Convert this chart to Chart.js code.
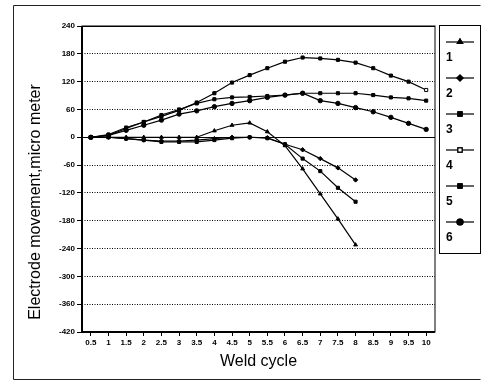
<!DOCTYPE html>
<html>
<head>
<meta charset="utf-8">
<script src="https://cdn.jsdelivr.net/npm/chart.js@4.4.0/dist/chart.umd.min.js"></script>
<style>
    body { margin: 0; background: #fff; }
    #wrap { width: 483px; height: 381px; }
</style>
</head>
<body>
<div id="wrap">
    <canvas id="weldChart" width="483" height="381"></canvas>
</div>
<script>
    const cycles = ['0.5', '1', '1.5', '2', '2.5', '3', '3.5', '4', '4.5', '5',
        '5.5', '6', '6.5', '7', '7.5', '8', '8.5', '9', '9.5', '10']
    const seriesNames = ['1', '2', '3', '4', '5', '6']
    const s1 = [0, 0, 0, 0, 0, 0, 0, 14, 26, 31, 12, -18, -68, -122, -176, -232, null, null, null, null]
    const s2 = [0, 0, -3, -6, -8, -8, -6, -3, 0, 0, -1, -15, -27, -46, -66, -92, null, null, null, null]
    const s3 = [0, 0, -3, -6, -10, -10, -10, -6, -2, 0, -2, -15, -46, -73, -109, -139, null, null, null, null]
    const s4 = [0, 4, 19, 33, 45, 58, 75, 95, 118, 134, 149, 163, 172, 170, 167, 161, 149, 133, 120, 102]
    const s5 = [0, 6, 21, 33, 48, 60, 73, 82, 86, 87, 89, 91, 95, 95, 95, 95, 91, 86, 84, 79]
    const s6 = [0, 4, 15, 26, 37, 50, 57, 66, 73, 79, 86, 91, 95, 79, 73, 64, 55, 43, 30, 17]
    const pointStyles = ['triangle', 'rectRot', 'rect', 'rect', 'rect', 'circle']

    const allSeries = [s1, s2, s3, s4, s5, s6]
    const datasets = allSeries.map((vals, i) => ({
        label: seriesNames[i],
        data: vals,
        borderColor: '#000',
        borderWidth: 1.2,
        backgroundColor: i === 3 ? '#fff' : '#000',
        // open square only shows on the last point of series 4
        pointBackgroundColor: c => (i === 3 && c.dataIndex === vals.length - 1) ? '#fff' : '#000',
        pointBorderColor: '#000',
        pointBorderWidth: 1,
        pointStyle: pointStyles[i],
        pointRadius: 2.2,
        tension: 0,
        spanGaps: false
    }))

    // frame, plot box, axis titles and the stacked legend on the right
    const extras = {
        id: 'extras',
        afterDraw(chart) {
            const ctx = chart.ctx
            const a = chart.chartArea
            ctx.save()
            ctx.strokeStyle = '#000'
            ctx.lineWidth = 1
            ctx.strokeRect(a.left, a.top, a.right - a.left, a.bottom - a.top)
            ctx.lineWidth = 2
            ctx.beginPath()
            ctx.moveTo(a.left, a.top)
            ctx.lineTo(a.left, a.bottom)
            ctx.moveTo(a.left, a.bottom)
            ctx.lineTo(a.right, a.bottom)
            ctx.stroke()

            // outer frame
            ctx.lineWidth = 1
            ctx.strokeStyle = '#222'
            ctx.beginPath()
            ctx.moveTo(480.5, 5.5)
            ctx.lineTo(13.5, 5.5)
            ctx.lineTo(13.5, 379.5)
            ctx.lineTo(480.5, 379.5)
            ctx.stroke()

            // axis titles
            ctx.fillStyle = '#000'
            ctx.font = '16px "Liberation Sans", Arial, sans-serif'
            ctx.textAlign = 'center'
            ctx.textBaseline = 'middle'
            ctx.fillText('Weld cycle', (a.left + a.right) / 2, 362)
            ctx.save()
            ctx.translate(36, 202)
            ctx.rotate(-Math.PI / 2)
            ctx.fillText('Electrode movement,micro meter', 0, 0)
            ctx.restore()

            // legend
            ctx.strokeStyle = '#000'
            ctx.lineWidth = 1
            ctx.strokeRect(439.5, 25.5, 41, 228)
            chart.data.datasets.forEach((ds, i) => {
                const y = 42 + 36 * i
                ctx.beginPath()
                ctx.moveTo(446, y)
                ctx.lineTo(474, y)
                ctx.lineWidth = 1.2
                ctx.stroke()
                Chart.helpers.drawPoint(ctx, {
                    pointStyle: ds.pointStyle,
                    radius: 3,
                    borderWidth: 1
                }, 460, y)
                ctx.fillStyle = ds.backgroundColor
                ctx.fill()
                ctx.stroke()
                ctx.fillStyle = '#000'
                ctx.font = 'bold 12px "Liberation Sans", Arial, sans-serif'
                ctx.textAlign = 'left'
                ctx.fillText(ds.label, 446, y + 16)
            })
            ctx.restore()
        }
    }

    new Chart(document.getElementById('weldChart'), {
        type: 'line',
        data: { labels: cycles, datasets: datasets },
        options: {
            responsive: false,
            animation: false,
            layout: { padding: { left: 40, top: 26, right: 48, bottom: 0 } },
            plugins: { legend: { display: false }, tooltip: { enabled: false } },
            scales: {
                x: {
                    offset: true,
                    afterFit: s => { s.height = 49 },
                    grid: { display: true, drawOnChartArea: false, color: '#000', tickLength: 4 },
                    border: { display: false },
                    ticks: {
                        color: '#000',
                        maxRotation: 0,
                        autoSkip: false,
                        padding: 2,
                        font: { size: 8, weight: 'bold', family: '"Liberation Sans", Arial, sans-serif' }
                    }
                },
                y: {
                    min: -420,
                    max: 240,
                    afterFit: s => { s.width = 42 },
                    grid: { color: '#000', lineWidth: 1, tickLength: 5 },
                    border: {
                        display: false,
                        dash: c => (c.tick && (c.tick.value === 0 || c.tick.value === 240)) ? [] : [1, 1.5]
                    },
                    ticks: {
                        stepSize: 60,
                        color: '#000',
                        padding: 2,
                        font: { size: 8, weight: 'bold', family: '"Liberation Sans", Arial, sans-serif' }
                    }
                }
            }
        },
        plugins: [extras]
    })
</script>
</body>
</html>
